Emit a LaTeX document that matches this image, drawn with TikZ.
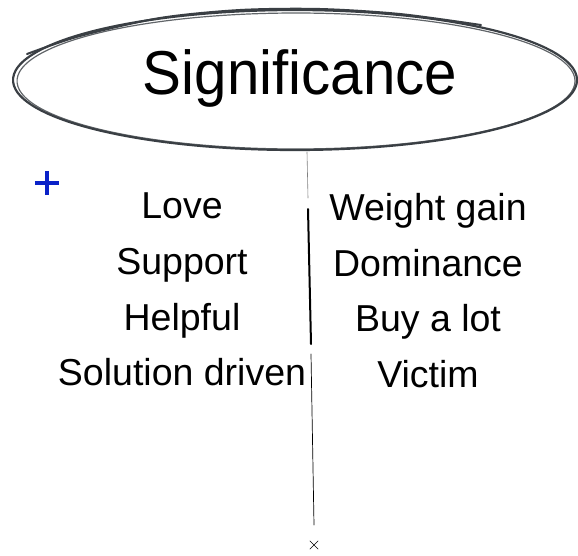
\documentclass[tikz,border=0pt]{standalone}
\usepackage{fontspec}
\setmainfont{Liberation Sans}
\definecolor{sketch}{HTML}{3A3F44}
\definecolor{plusblue}{HTML}{0A22C8}
\tikzset{
  item/.style={anchor=base, inner sep=0pt, font=\fontsize{37.5}{40}\selectfont},
  title/.style={anchor=base, inner sep=0pt, font=\fontsize{62}{66}\selectfont},
  stroke/.style={draw=sketch, line width=2.2pt, line cap=round, line join=round},
  divider/.style={draw=black, line cap=round}
}
\begin{document}
\begin{tikzpicture}[x=1pt,y=-1pt]
\useasboundingbox (0,0) rectangle (578,555);
% sketchy ellipse
\draw[stroke] plot[domain=0:360, samples=120, smooth cycle] ({295+282*cos(\x)}, {80+70*sin(\x)});
\draw[stroke, line width=1.2pt, opacity=0.8] plot[domain=0:360, samples=120, smooth cycle] ({296+279*cos(\x)}, {81+68*sin(\x)});
\draw[stroke, line width=2pt] plot[smooth] coordinates {(27,54) (80,36) (160,18) (240,10) (320,9) (400,14) (481,25)};
\node[title] (sig) at (300,94) {\scalebox{0.94}[1]{Significance}};
% divider line
\coordinate (d1) at (307,152);
\coordinate (d2) at (308,198);
\coordinate (d3) at (308,209);
\coordinate (d4) at (311,344);
\coordinate (d5) at (311,354);
\coordinate (d6) at (314,525);
\draw[divider, line width=0.6pt, draw=gray] (d1) -- (d2);
\draw[divider, line width=2pt] (d3) -- (d4);
\draw[divider, line width=0.7pt] (d5) -- (d6);
% cross mark
\node[inner sep=0pt, minimum size=8pt] (x) at (314,545) {};
\draw[line width=0.5pt] (x.north west) -- (x.south east) (x.north east) -- (x.south west);
% plus sign
\node[inner sep=0pt, minimum size=24pt] (plus) at (47,183) {};
\draw[plusblue, line width=4pt] (plus.west) -- (plus.east) (plus.north) -- (plus.south);
% left column
\node[item] (l1) at (182,218) {Love};
\node[item] (l2) at (182,274) {Support};
\node[item] (l3) at (182,330) {Helpful};
\node[item] (l4) at (182,385) {Solution driven};
% right column
\node[item] (r1) at (428,220) {Weight gain};
\node[item] (r2) at (428,276) {Dominance};
\node[item] (r3) at (428,331) {Buy a lot};
\node[item] (r4) at (428,387) {Victim};
\end{tikzpicture}
\end{document}
